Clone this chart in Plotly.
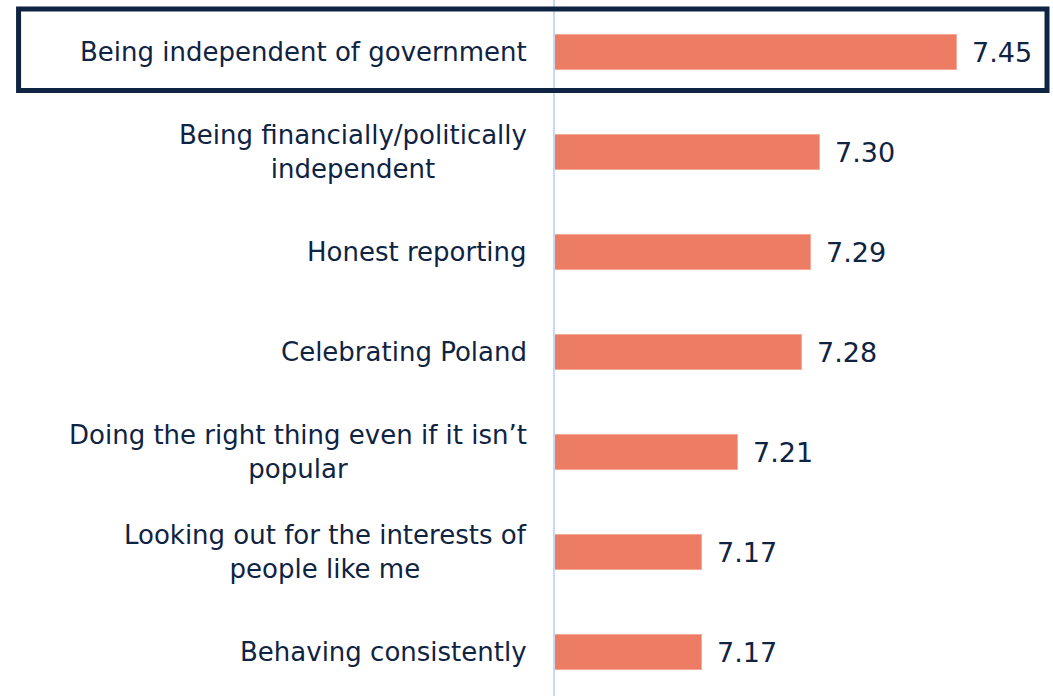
import plotly.graph_objects as go

# Attributes and their mean scores (top to bottom)
categories = [
    "Being independent of government",
    "Being financially/politically<br>independent",
    "Honest reporting",
    "Celebrating Poland",
    "Doing the right thing even if it isn\u2019t<br>popular",
    "Looking out for the interests of<br>people like me",
    "Behaving consistently",
]
scores = [7.45, 7.30, 7.29, 7.28, 7.21, 7.17, 7.17]
score_labels = ["7.45", "7.30", "7.29", "7.28", "7.21", "7.17", "7.17"]

NAVY = "#0f2342"
BAR = "#ED7C64"
FONT = "Verdana, DejaVu Sans, sans-serif"

fig = go.Figure(
    go.Bar(
        x=scores,
        y=categories,
        orientation="h",
        width=0.35,
        marker=dict(color=BAR, line=dict(color="#F4A897", width=1)),
        hoverinfo="skip",
    )
)

annotations = []
# category labels, right-aligned next to the axis, multi-line blocks centred
for cat in categories:
    annotations.append(dict(
        x=0, xref="paper", y=cat, yref="y",
        text=cat, showarrow=False,
        xanchor="right", yanchor="middle", align="center",
        xshift=-25,
        font=dict(family=FONT, size=26, color=NAVY),
    ))
# value labels at the end of each bar
for cat, v, lab in zip(categories, scores, score_labels):
    annotations.append(dict(
        x=v, xref="x", y=cat, yref="y",
        text=lab, showarrow=False,
        xanchor="left", yanchor="middle",
        xshift=13,
        font=dict(family=FONT, size=27, color=NAVY),
    ))

shapes = [
    # axis line
    dict(type="line", xref="paper", yref="paper", x0=0, x1=0, y0=0, y1=1,
         line=dict(color="#C6DAF4", width=2), layer="above"),
    # highlight frame around the top item
    dict(type="rect", xref="paper", yref="y",
         x0=-1.073, x1=0.988, y0=-0.43, y1=0.385,
         line=dict(color=NAVY, width=5), fillcolor="rgba(0,0,0,0)"),
]

fig.update_layout(
    width=1053, height=696,
    margin=dict(l=554, r=0, t=0, b=0),
    paper_bgcolor="white", plot_bgcolor="white",
    showlegend=False,
    bargap=0,
    xaxis=dict(range=[7.0077, 7.5556], visible=False, fixedrange=True),
    yaxis=dict(range=[6.44, -0.52], showticklabels=False, showgrid=False,
               zeroline=False, showline=False, ticks="", fixedrange=True),
    annotations=annotations,
    shapes=shapes,
)

fig.write_html("out.html")
